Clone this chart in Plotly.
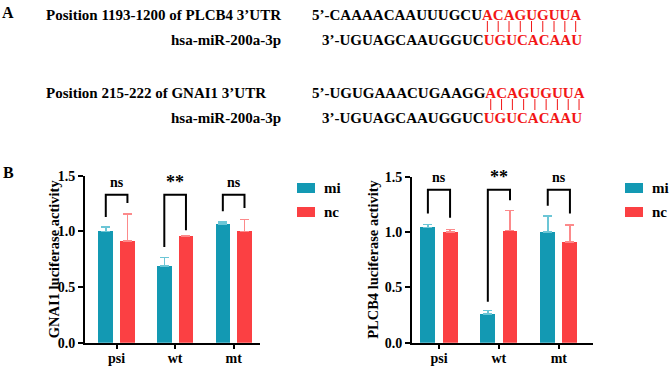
import plotly.graph_objects as go

W, H = 669, 368

# ---------------- data ----------------
categories = ["psi", "wt", "mt"]
series_names = ["mi", "nc"]

gnai1_mi = [1.00, 0.69, 1.065]
gnai1_mi_err = [0.04, 0.075, 0.02]
gnai1_nc = [0.915, 0.955, 1.00]
gnai1_nc_err = [0.24, 0.005, 0.105]

plcb4_mi = [1.045, 0.26, 1.00]
plcb4_mi_err = [0.025, 0.03, 0.145]
plcb4_nc = [1.00, 1.015, 0.91]
plcb4_nc_err = [0.025, 0.18, 0.155]

gnai1_sig = ["ns", "**", "ns"]
plcb4_sig = ["ns", "**", "ns"]
# bracket leg ends (data units) and bracket tops
gnai1_leg_mi = [1.13, 0.86, 1.18]
gnai1_leg_nc = [1.255, 1.01, 1.21]
gnai1_bracket_top = 1.33
gnai1_sig_y = 1.44
plcb4_leg_mi = [1.17, 0.37, 1.24]
plcb4_leg_nc = [1.13, 1.29, 1.17]
plcb4_bracket_top = 1.385
plcb4_sig_y = 1.50

y_ticks = [0.0, 0.5, 1.0, 1.5]

# panel A texts
site1_label = "Position 1193-1200 of PLCB4 3\u2019UTR"
site1_black = "5\u2019-CAAAACAAUUUGCU"
site1_red = "ACAGUGUUA"
site2_label = "Position 215-222 of GNAI1 3\u2019UTR"
site2_black = "5\u2019-UGUGAAACUGAAGG"
site2_red = "ACAGUGUUA"
mir_label = "hsa-miR-200a-3p"
mir_black = "3\u2019-UGUAGCAAUGGUC"
mir_red = "UGUCACAAU"

# ---------------- styles ----------------
TEAL = "#1399b3"
RED = "#fb4043"
TEAL_ERR = "#6cc6d6"
RED_ERR = "#fc8a8b"
SEQ_RED = "#f21616"
FONT = "Liberation Serif"


def px(x):
    return x / W


def py(y):
    return 1 - y / H


fig = go.Figure()

panels = [
    dict(xa="x", ya="y", mi=gnai1_mi, mie=gnai1_mi_err, nc=gnai1_nc, nce=gnai1_nc_err,
         sig=gnai1_sig, legmi=gnai1_leg_mi, legnc=gnai1_leg_nc, top=gnai1_bracket_top,
         sigy=gnai1_sig_y, title="GNAI1 luciferase activity",
         xdom=(85, 260), xrange=[-0.54, 2.45], title_x=54, leg_x=297, ydom=(342.7, 175.7)),
    dict(xa="x2", ya="y2", mi=plcb4_mi, mie=plcb4_mi_err, nc=plcb4_nc, nce=plcb4_nc_err,
         sig=plcb4_sig, legmi=plcb4_leg_mi, legnc=plcb4_leg_nc, top=plcb4_bracket_top,
         sigy=plcb4_sig_y, title="PLCB4 luciferase activity",
         xdom=(412, 593), xrange=[-0.45, 2.57], title_x=373, leg_x=625, ydom=(342.7, 177.0)),
]

xs = list(range(len(categories)))
BW = 0.25
OFF_MI = -0.31
OFF_NC = 0.06

shapes = []
annotations = []

for i, p in enumerate(panels):
    fig.add_trace(go.Bar(
        x=xs, y=p["mi"], name=series_names[0], xaxis=p["xa"], yaxis=p["ya"],
        width=BW, offset=OFF_MI, marker=dict(color=TEAL, line=dict(width=0)),
        error_y=dict(type="data", symmetric=False, array=p["mie"], arrayminus=[0] * 3,
                     color=TEAL_ERR, thickness=1.5, width=4.5),
        showlegend=False, hoverinfo="skip"))
    fig.add_trace(go.Bar(
        x=xs, y=p["nc"], name=series_names[1], xaxis=p["xa"], yaxis=p["ya"],
        width=BW, offset=OFF_NC, marker=dict(color=RED, line=dict(width=0)),
        error_y=dict(type="data", symmetric=False, array=p["nce"], arrayminus=[0] * 3,
                     color=RED_ERR, thickness=1.5, width=4.5),
        showlegend=False, hoverinfo="skip"))

    suffix = "" if i == 0 else "2"
    axis_common = dict(showline=True, linecolor="black", linewidth=2, ticks="outside",
                       tickcolor="black", tickwidth=2, showgrid=False, zeroline=False,
                       automargin=False, fixedrange=True)
    fig.update_layout(**{
        "xaxis" + suffix: dict(domain=[px(p["xdom"][0]), px(p["xdom"][1])], range=p["xrange"],
                               tickvals=xs, ticktext=["<b>%s</b>" % c for c in categories],
                               ticklen=4, anchor="y" + suffix, ticklabelstandoff=-3,
                               **axis_common,
                               tickfont=dict(family=FONT, size=14, color="black")),
        "yaxis" + suffix: dict(domain=[py(p["ydom"][0]), py(p["ydom"][1])], range=[0, 1.5],
                               tickvals=y_ticks, ticktext=["<b>%.1f</b>" % t for t in y_ticks],
                               ticklen=5, anchor="x" + suffix, **axis_common,
                               tickfont=dict(family=FONT, size=14, color="black")),
    })

    xref = p["xa"]
    yref = p["ya"]
    cmi = OFF_MI + BW / 2
    cnc = OFF_NC + BW / 2
    for j in xs:
        shapes.append(dict(type="path", xref=xref, yref=yref,
                           path="M %f %f L %f %f L %f %f L %f %f" % (
                               j + cmi, p["legmi"][j], j + cmi, p["top"],
                               j + cnc, p["top"], j + cnc, p["legnc"][j]),
                           line=dict(color="black", width=2)))
        s = p["sig"][j]
        annotations.append(dict(x=j, y=p["sigy"], xref=xref, yref=yref, text="<b>%s</b>" % s,
                                showarrow=False, xanchor="center", yanchor="middle",
                                font=dict(family=FONT, size=18 if s == "**" else 14, color="black")))

    # y-axis title
    ymid = (p["ydom"][0] + p["ydom"][1]) / 2
    annotations.append(dict(x=px(p["title_x"]), y=py(ymid), xref="paper", yref="paper",
                            text="<b>%s</b>" % p["title"], textangle=-90, showarrow=False,
                            xanchor="center", yanchor="middle",
                            font=dict(family=FONT, size=14.5, color="black")))
    # legend
    for k, (nm, col) in enumerate(zip(series_names, [TEAL, RED])):
        y0 = 183 + k * 24
        shapes.append(dict(type="rect", xref="paper", yref="paper",
                           x0=px(p["leg_x"]), x1=px(p["leg_x"] + 18),
                           y0=py(y0), y1=py(y0 + 10), fillcolor=col, line=dict(width=0)))
        annotations.append(dict(x=px(p["leg_x"] + 27), y=py(y0 + 5), xref="paper", yref="paper",
                                text="<b>%s</b>" % nm, showarrow=False, xanchor="left",
                                yanchor="middle", borderpad=0, borderwidth=0,
                                font=dict(family=FONT, size=15, color="black")))

# ---------------- panel A ----------------
letter_w = {"A": 0.722, "C": 0.722, "G": 0.778, "U": 0.722, "5": 0.5, "3": 0.5,
            "\u2019": 0.333, "-": 0.333}
SEQ_SIZE = 15


def text_w(s, size):
    return sum(letter_w[c] for c in s) * size


def add_text(x, y, text, anchor, size=15):
    annotations.append(dict(x=px(x), y=py(y), xref="paper", yref="paper", text=text,
                            showarrow=False, xanchor=anchor, yanchor="middle",
                            borderpad=0, borderwidth=0,
                            font=dict(family=FONT, size=size, color="black")))


blocks = [
    (site1_label, site1_black, site1_red, 15, 40, 21, 32),
    (site2_label, site2_black, site2_red, 93, 118, 99, 110),
]
for label, black, red, y1, y2, b0, b1 in blocks:
    add_text(46, y1, "<b>%s</b>" % label, "left")
    add_text(312, y1, "<b>%s<span style='color:%s'>%s</span></b>" % (black, SEQ_RED, red),
             "left", size=SEQ_SIZE)
    add_text(281, y2, "<b>%s</b>" % mir_label, "right")
    add_text(322, y2, "<b>%s<span style='color:%s'>%s</span></b>" % (mir_black, SEQ_RED, mir_red),
             "left", size=SEQ_SIZE)
    cx = 312 + text_w(black, SEQ_SIZE)
    for ch in red:
        w = letter_w[ch] * SEQ_SIZE
        c = cx + w / 2
        shapes.append(dict(type="line", xref="paper", yref="paper", x0=px(c), x1=px(c),
                           y0=py(b0), y1=py(b1), line=dict(color=SEQ_RED, width=1)))
        cx += w

add_text(8, 12, "<b>A</b>", "center", size=16)
add_text(8, 173, "<b>B</b>", "center", size=16)

fig.update_layout(width=W, height=H, margin=dict(l=0, r=0, t=0, b=0, autoexpand=False),
                  paper_bgcolor="white", plot_bgcolor="white", showlegend=False,
                  shapes=shapes, annotations=annotations, bargap=0, hovermode=False)

fig.write_html("out.html", config={"displayModeBar": False, "staticPlot": True},
               post_script="document.body.style.margin='0';document.body.style.overflow='hidden';")
